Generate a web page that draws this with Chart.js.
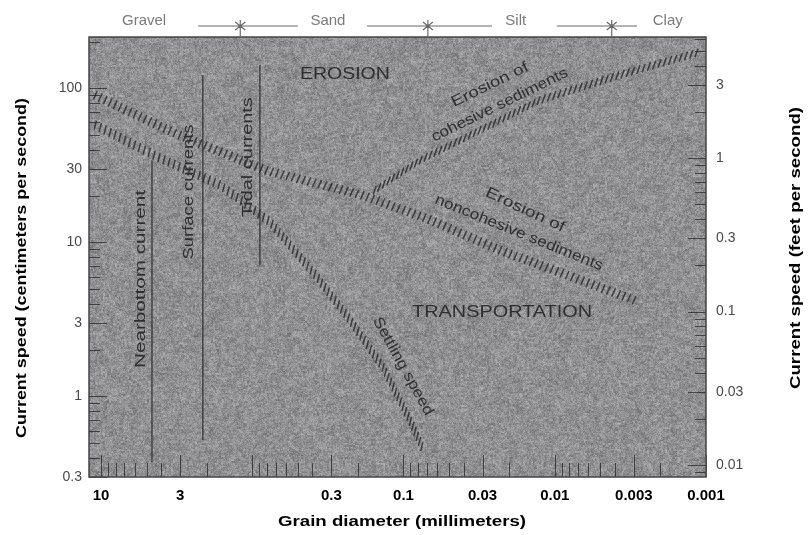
<!DOCTYPE html>
<html><head><meta charset="utf-8">
<style>html,body{margin:0;padding:0;background:#fff;}#wrap{width:808px;height:535px;position:relative;}</style>
<script src="https://cdn.jsdelivr.net/npm/chart.js@4.4.1/dist/chart.umd.min.js"></script>
</head><body><div id="wrap"><canvas id="c" width="808" height="535"></canvas></div>
<script>
// ---- axes ----
const grainTicks = [10, 3, 0.3, 0.1, 0.03, 0.01, 0.003, 0.001];
const speedTicksCm = [0.3, 1, 3, 10, 30, 100];
const speedTicksFt = [0.01, 0.03, 0.1, 0.3, 1, 3];
const grainRange = [0.001, 12];
const speedRangeCm = [0.3, 215];
const speedRangeFt = [0.00835, 6.15];

// ---- curves (grain mm, speed cm/s) ----
const noncohesiveGrain = [10.9, 3.24, 0.82, 0.18, 0.067, 0.023, 0.00295];
const noncohesiveSpeed = [90, 51, 29.4, 20, 14, 8.9, 4.2];
const cohesiveGrain = [0.155, 0.078, 0.0125, 0.0037, 0.0011];
const cohesiveSpeed = [21.8, 34, 84, 122, 172];
const settlingGrain = [10.9, 4.07, 1.63, 0.76, 0.373, 0.226, 0.137, 0.0906, 0.0755];
const settlingSpeed = [57.7, 35.2, 23.5, 13.5, 5.95, 3.13, 1.55, 0.70, 0.47];

// ---- current ranges ----
const currentNames = ['Nearbottom current', 'Surface currents', 'Tidal currents'];
const currentGrain = [4.6, 2.12, 0.89];
const currentMin = [0.375, 0.52, 7.1];
const currentMax = [34, 122, 141];

// ---- size classes along the top ----
const classNames = ['Gravel', 'Sand', 'Silt', 'Clay'];
const classCenters = [5.19, 0.316, 0.0181, 0.00179];
const classBounds = [1.2, 0.069, 0.0042];
const classLineFrom = [2.28, 0.1745, 0.00968];
const classLineTo = [0.499, 0.026, 0.00286];

// ---- text labels in the plot ----
const noteTexts = ['EROSION', 'TRANSPORTATION', 'Erosion of', 'cohesive sediments', 'Erosion of', 'noncohesive sediments', 'Settling speed', 'Nearbottom current', 'Surface currents', 'Tidal currents'];
const noteGrain = [0.244, 0.0223, 0.0268, 0.0231, 0.0157, 0.01725, 0.101, 5.43, 2.62, 1.07];
const noteSpeed = [122, 3.52, 105, 77.8, 16.2, 11.5, 1.57, 5.78, 21.2, 35.7];

const noteStyle = [
  {a:0, w:90, s:16}, {a:0, w:180, s:16}, {a:-26, w:84, s:15}, {a:-26, w:150, s:15},
  {a:25, w:86, s:15}, {a:22, w:180, s:15}, {a:61, w:110, s:15},
  {a:-90, w:178, s:15}, {a:-90, w:135, s:15}, {a:-90, w:120, s:15}
];

const zip = (xs, ys) => xs.map((x, i) => ({x, y: ys[i]}));

function hash(n) {
  n = (n ^ 61) ^ (n >>> 16); n = n + (n << 3); n = n ^ (n >>> 4);
  n = Math.imul(n, 0x27d4eb2d); n = n ^ (n >>> 15); return (n >>> 0) / 4294967296;
}

const texturePlugin = {
  id: 'texture',
  beforeDatasetsDraw(chart) {
    const ctx = chart.ctx, ca = chart.chartArea;
    const L = Math.round(ca.left), T = Math.round(ca.top);
    const W = Math.round(ca.right) - L, H = Math.round(ca.bottom) - T;
    const img = ctx.createImageData(W, H);
    for (let y = 0; y < H; y++) for (let x = 0; x < W; x++) {
      const p = hash(x * 7919 + y * 104729 + 17);
      const q = hash(((x / 2) | 0) * 3571 + ((y / 2) | 0) * 6481 + 5);
      const r = hash(((x / 7) | 0) * 1231 + ((y / 7) | 0) * 877 + 9);
      let v = 144 + (p - 0.5) * 36 + (q - 0.5) * 30 + (r - 0.5) * 12;
      v = Math.max(80, Math.min(210, v));
      const k = (y * W + x) * 4;
      img.data[k] = v; img.data[k + 1] = v; img.data[k + 2] = v + 2; img.data[k + 3] = 255;
    }
    ctx.putImageData(img, L, T);
    ctx.save();
    ctx.strokeStyle = 'rgba(30,30,30,0.7)';
    ctx.lineWidth = 1;
    const ys = chart.scales.y, y2 = chart.scales.y2, xs = chart.scales.x;
    const minors = (lo, hi) => { const out = []; for (let e = -4; e <= 3; e++) for (let k = 1; k <= 9; k++) { const v = k * Math.pow(10, e); if (v >= lo && v <= hi) out.push([v, k === 1 || k === 3]); } return out; };
    ctx.beginPath();
    minors(speedRangeCm[0], speedRangeCm[1]).forEach(([v, maj]) => { const py = Math.round(ys.getPixelForValue(v)) + 0.5; ctx.moveTo(ca.left, py); ctx.lineTo(ca.left + (maj ? 18 : 11), py); });
    minors(speedRangeFt[0], speedRangeFt[1]).forEach(([v, maj]) => { const py = Math.round(y2.getPixelForValue(v)) + 0.5; ctx.moveTo(ca.right, py); ctx.lineTo(ca.right - (maj ? 18 : 11), py); });
    minors(grainRange[0], grainRange[1]).forEach(([v, maj]) => { const px = Math.round(xs.getPixelForValue(v)) + 0.5; ctx.moveTo(px, ca.bottom); ctx.lineTo(px, ca.bottom - (maj ? 22 : 14)); });
    ctx.stroke();
    ctx.strokeStyle = '#444';
    ctx.lineWidth = 1.5;
    ctx.strokeRect(ca.left, ca.top, ca.right - ca.left, ca.bottom - ca.top);
    ctx.restore();
  },
  afterDatasetsDraw(chart) {
    const ctx = chart.ctx;
    chart.data.datasets.forEach((ds, i) => {
      if (!ds.hatch) return;
      const pts = chart.getDatasetMeta(i).data.map(p => ({x: p.x, y: p.y}));
      const o = ds.hatch;
      ctx.save();
      ctx.strokeStyle = 'rgba(35,35,35,0.8)';
      ctx.lineWidth = o.width;
      ctx.lineCap = 'round';
      ctx.beginPath();
      let carry = 0;
      const ang = o.angle * Math.PI / 180;
      const hx = Math.cos(ang) * o.len / 2, hy = Math.sin(ang) * o.len / 2;
      for (let k = 0; k < pts.length - 1; k++) {
        const a = pts[k], b = pts[k + 1];
        const dx = b.x - a.x, dy = b.y - a.y, len = Math.hypot(dx, dy);
        let s = carry;
        while (s <= len) {
          const x = a.x + dx * s / len, y = a.y + dy * s / len;
          ctx.moveTo(x - hx, y - hy); ctx.lineTo(x + hx, y + hy);
          s += o.gap;
        }
        carry = s - len;
      }
      ctx.stroke();
      ctx.restore();
    });
  },
  afterDraw(chart) {
    const ctx = chart.ctx, xs = chart.scales.x, ys = chart.scales.y, ca = chart.chartArea;
    const fit = (text, cx, cy, deg, font, width, color) => {
      ctx.save();
      ctx.font = font; ctx.fillStyle = color; ctx.textAlign = 'center'; ctx.textBaseline = 'middle';
      ctx.translate(cx, cy); ctx.rotate(deg * Math.PI / 180);
      const m = ctx.measureText(text).width;
      if (width) ctx.scale(width / m, 1);
      ctx.fillText(text, 0, 0);
      ctx.restore();
    };
    noteTexts.forEach((t, i) => {
      const st = noteStyle[i];
      fit(t, xs.getPixelForValue(noteGrain[i]), ys.getPixelForValue(noteSpeed[i]), st.a, st.s + 'px "Liberation Sans", Arial, sans-serif', st.w, '#2e2e2e');
    });
    const ty = 21;
    classNames.forEach((t, i) => fit(t, xs.getPixelForValue(classCenters[i]), ty, 0, '15px "Liberation Sans", Arial, sans-serif', null, '#7a7a7a'));
    ctx.save();
    ctx.strokeStyle = '#6a6a6a'; ctx.lineWidth = 1.2;
    ctx.beginPath();
    classBounds.forEach((b, i) => {
      const x1 = xs.getPixelForValue(classLineFrom[i]), x2 = xs.getPixelForValue(classLineTo[i]), xb = xs.getPixelForValue(b);
      ctx.moveTo(x1, 26); ctx.lineTo(x2, 26);
      ctx.moveTo(xb, 20); ctx.lineTo(xb, ca.top);
      ctx.moveTo(xb - 5, 22); ctx.lineTo(xb + 5, 30);
      ctx.moveTo(xb - 5, 30); ctx.lineTo(xb + 5, 22);
    });
    ctx.stroke();
    ctx.restore();
    const bold = 'bold 15px "Liberation Sans", Arial, sans-serif';
    fit('Current speed (centimeters per second)', 22, 268, -90, bold, 340, '#000');
    fit('Current speed (feet per second)', 796, 248, -90, bold, 282, '#000');
    fit('Grain diameter (millimeters)', 402, 522, 0, bold, 248, '#000');
  }
};

const hatchSet = (label, g, v, hatch) => ({label, data: zip(g, v), borderColor: 'rgba(0,0,0,0)', borderWidth: 0, pointRadius: 0, hatch});
const currentSets = currentNames.map((n, i) => ({
  label: n, data: [{x: currentGrain[i], y: currentMin[i]}, {x: currentGrain[i], y: currentMax[i]}],
  borderColor: '#262626', borderWidth: 1.1, pointRadius: 0
}));

new Chart(document.getElementById('c'), {
  type: 'line',
  data: {
    datasets: [
      hatchSet('Erosion of noncohesive sediments', noncohesiveGrain, noncohesiveSpeed, {angle: -66, len: 8, gap: 5.5, width: 1.5}),
      hatchSet('Erosion of cohesive sediments', cohesiveGrain, cohesiveSpeed, {angle: -70, len: 8, gap: 5.5, width: 1.5}),
      hatchSet('Settling speed', settlingGrain, settlingSpeed, {angle: -75, len: 8, gap: 5.5, width: 1.5}),
      ...currentSets
    ]
  },
  options: {
    responsive: false, animation: false,
    layout: {padding: {top: 37, left: 0, right: 0, bottom: 0}},
    plugins: {legend: {display: false}, tooltip: {enabled: false}},
    scales: {
      x: {
        type: 'logarithmic', reverse: true, min: grainRange[0], max: grainRange[1], position: 'bottom',
        grid: {display: false, drawTicks: false}, border: {display: false},
        ticks: {padding: 10, autoSkip: false, maxRotation: 0, color: '#000', font: {family: '"Liberation Sans", Arial, sans-serif', size: 15, weight: 'bold'}, callback: v => String(v)},
        afterBuildTicks: s => { s.ticks = grainTicks.map(v => ({value: v})); },
        afterFit: s => { s.height = 58; }
      },
      y: {
        type: 'logarithmic', min: speedRangeCm[0], max: speedRangeCm[1], position: 'left',
        grid: {display: false, drawTicks: false}, border: {display: false},
        ticks: {padding: 7, autoSkip: false, color: '#4a4a4a', font: {family: '"Liberation Sans", Arial, sans-serif', size: 14}, callback: v => String(v)},
        afterBuildTicks: s => { s.ticks = speedTicksCm.map(v => ({value: v})); },
        afterFit: s => { s.width = 89; }
      },
      y2: {
        type: 'logarithmic', min: speedRangeFt[0], max: speedRangeFt[1], position: 'right',
        grid: {display: false, drawTicks: false}, border: {display: false},
        ticks: {padding: 10, autoSkip: false, color: '#4a4a4a', font: {family: '"Liberation Sans", Arial, sans-serif', size: 14}, callback: v => String(v)},
        afterBuildTicks: s => { s.ticks = speedTicksFt.map(v => ({value: v})); },
        afterFit: s => { s.width = 102; }
      }
    }
  },
  plugins: [texturePlugin]
});
</script></body></html>
